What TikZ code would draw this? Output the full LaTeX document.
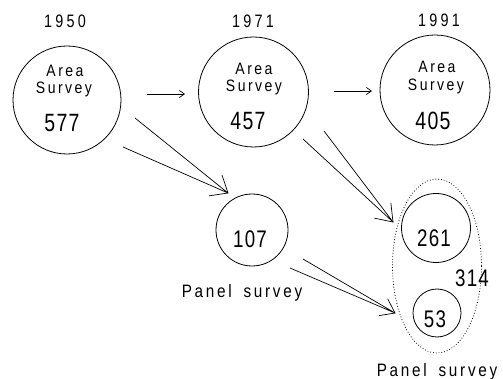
\documentclass[tikz,border=0pt]{standalone}
\usepackage{fontspec}
\setmainfont{Liberation Sans}
\newfontfamily\spcfont[FakeStretch=0.85,LetterSpace=15]{Liberation Sans}
\newfontfamily\yrfont[FakeStretch=0.8,LetterSpace=18]{Liberation Sans}
\newfontfamily\numfont[FakeStretch=0.78,LetterSpace=5]{Liberation Sans}
\usetikzlibrary{calc,arrows.meta}
\begin{document}
\begin{tikzpicture}[x=1pt,y=-1pt,
  circ/.style={draw, circle, line width=0.8pt, inner sep=0pt},
  yr/.style={font=\yrfont\fontsize{18}{18}\selectfont, anchor=base, inner sep=0pt},
  lab/.style={font=\spcfont\fontsize{16.5}{16.5}\selectfont, anchor=base, inner sep=0pt},
  pan/.style={font=\spcfont\fontsize{18}{18}\selectfont, anchor=base, inner sep=0pt},
  big/.style={font=\numfont\fontsize{25}{25}\selectfont, anchor=base, inner sep=0pt},
  small/.style={font=\numfont\fontsize{24}{24}\selectfont, anchor=base, inner sep=0pt},
  conn/.style={line width=0.7pt},
  sarr/.style={conn, -{Straight Barb[length=5pt,width=7pt]}}]
\useasboundingbox (0,0) rectangle (503,379);

% circles
\node[circ, minimum size=108pt] (c1950) at (67,100) {};
\node[circ, minimum size=110pt] (c1971) at (253.5,92) {};
\node[circ, minimum size=110pt] (c1991) at (435,90) {};
\node[circ, minimum size=72pt] (c107) at (252,230) {};
\node[circ, minimum size=69pt] (c261) at (436,228) {};
\node[circ, minimum size=48pt] (c53) at (437,313) {};
\draw[dotted, line width=0.8pt] (437,266) ellipse [x radius=44.5, y radius=87];

% texts
\node[yr] (y1950) at (65,28) {1950};
\node[lab] (a1950) at (65,77) {Area};
\node[lab] (s1950) at (64,94) {Survey};
\node[big] (n1950) at (62,132) {577};

\node[yr] (y1971) at (253,28) {1971};
\node[lab] (a1971) at (254,75) {Area};
\node[lab] (s1971) at (254,92) {Survey};
\node[big] (n1971) at (248,130) {457};

\node[yr] (y1991) at (439,27) {1991};
\node[lab] (a1991) at (437,73) {Area};
\node[lab] (s1991) at (436,91) {Survey};
\node[big] (n1991) at (433,130) {405};

\node[small] (n107) at (250,248) {107};
\node[small] (n261) at (434,247) {261};
\node[small] (n53) at (435,327) {53};
\node[small] (n314) at (472,287) {314};
\node[pan] (p1) at (242,297) {Panel\hspace{5pt} survey};
\node[pan] (p2) at (437,376) {Panel\hspace{5pt} survey};

% simple arrows
\coordinate (h1s) at (147,94); \coordinate (h1e) at (185,94);
\coordinate (h2s) at (334,91); \coordinate (h2e) at (372,91);
\draw[sarr] (h1s) -- (h1e);
\draw[sarr] (h2s) -- (h2e);

% double arrows
\coordinate (a1s) at (135,118); \coordinate (a1u) at (123,147); \coordinate (a1t) at (228,193);
\coordinate (a1m) at ($(a1s)!0.5!(a1u)$);
\draw[conn] (a1s) -- (a1t) (a1u) -- (a1t);
\draw[conn] ($(a1t)!19pt!40:(a1m)$) -- (a1t) -- ($(a1t)!19pt!-40:(a1m)$);

\coordinate (a2s) at (324,131); \coordinate (a2u) at (303,139); \coordinate (a2t) at (393,222);
\coordinate (a2m) at ($(a2s)!0.5!(a2u)$);
\draw[conn] (a2s) -- (a2t) (a2u) -- (a2t);
\draw[conn] ($(a2t)!19pt!36:(a2m)$) -- (a2t) -- ($(a2t)!19pt!-36:(a2m)$);

\coordinate (a3s) at (303,259); \coordinate (a3u) at (290,268); \coordinate (a3t) at (395,313);
\coordinate (a3m) at ($(a3s)!0.5!(a3u)$);
\draw[conn] (a3s) -- (a3t) (a3u) -- (a3t);
\draw[conn] ($(a3t)!16pt!36:(a3m)$) -- (a3t) -- ($(a3t)!16pt!-36:(a3m)$);
\end{tikzpicture}
\end{document}
